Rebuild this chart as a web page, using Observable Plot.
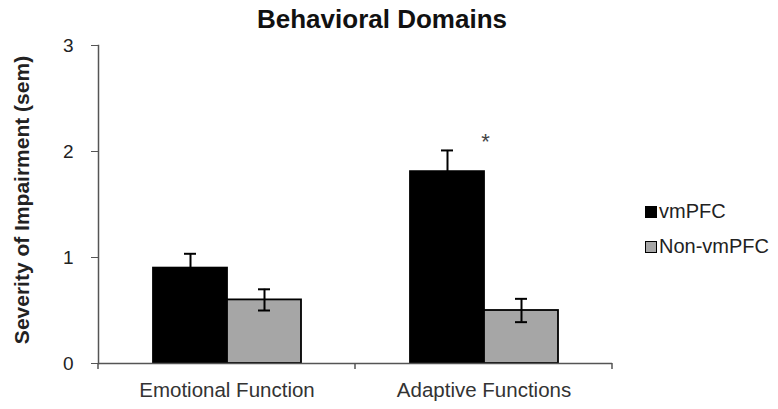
<!DOCTYPE html>
<html><head><meta charset="utf-8">
<script src="https://cdn.jsdelivr.net/npm/d3@7"></script>
<script src="https://cdn.jsdelivr.net/npm/@observablehq/plot@0.6"></script>
<style>
body{margin:0;background:#fff;font-family:"Liberation Sans",Arial,Helvetica,sans-serif;}
#wrap{position:relative;width:778px;height:409px;overflow:hidden;}
#title{position:absolute;left:0;top:4px;width:764px;text-align:center;font-weight:bold;font-size:26px;color:#111;line-height:30px;}
.leg{position:absolute;left:645px;display:flex;align-items:center;font-size:20px;color:#222;}
.sw{width:10px;height:10px;border:1.5px solid #000;margin-right:2px;}
</style></head><body>
<div id="wrap"><div id="title"></div></div>
<script>
const title = "Behavioral Domains";
const yLabel = "Severity of Impairment (sem)";
const categories = ["Emotional Function", "Adaptive Functions"];
const groups = ["vmPFC", "Non-vmPFC"];
const vmPFCMeans = [0.9, 1.81];
const vmPFCErrors = [0.135, 0.2];
const nonVmPFCMeans = [0.6, 0.5];
const nonVmPFCErrors = [0.1, 0.11];
const yTicks = [0, 1, 2, 3];
const groupColors = ["#000000", "#a6a6a6"];
const significance = [{category: "Adaptive Functions", group: "vmPFC", label: "*"}];

const rows = categories.flatMap((c, i) => [
  {category: c, group: groups[0], mean: vmPFCMeans[i], err: vmPFCErrors[i]},
  {category: c, group: groups[1], mean: nonVmPFCMeans[i], err: nonVmPFCErrors[i]}
]);
rows.forEach(d => { d.lo = d.mean - d.err; d.hi = d.mean + d.err; });
const stars = significance.map(s => {
  const r = rows.find(d => d.category === s.category && d.group === s.group);
  return {...s, y: r.hi};
});

const plot = Plot.plot({
  width: 778, height: 409,
  marginLeft: 97, marginRight: 166, marginTop: 45, marginBottom: 46,
  style: {fontFamily: "Liberation Sans, Arial, sans-serif", background: "white", fontSize: "18px"},
  fx: {domain: categories, padding: 0, label: null},
  x: {domain: groups, paddingInner: 0, paddingOuter: 0.717, axis: null},
  y: {domain: [0, 3], label: null},
  color: {domain: groups, range: groupColors},
  marks: [
    Plot.barY(rows, {fx: "category", x: "group", y: "mean", fill: "group", stroke: "black", strokeWidth: 1.8}),
    Plot.ruleX(rows, {fx: "category", x: "group", y1: "lo", y2: "hi", stroke: "black", strokeWidth: 2}),
    Plot.tickY(rows, {fx: "category", x: "group", y: "hi", stroke: "black", strokeWidth: 2, insetLeft: 31, insetRight: 31}),
    Plot.tickY(rows, {fx: "category", x: "group", y: "lo", stroke: "black", strokeWidth: 2, insetLeft: 31, insetRight: 31}),
    Plot.ruleY([0], {stroke: "#555", strokeWidth: 1.5}),
    Plot.frame({anchor: "left", facetAnchor: "left", stroke: "#555", strokeWidth: 1.5}),
    Plot.text(stars, {fx: "category", x: "group", y: "y", text: "label", dx: 38, dy: -8, fontSize: 22, fill: "#444"}),
    Plot.axisY({ticks: yTicks, tickFormat: d3.format("d"), tickSize: 7, tickPadding: 18, fontSize: 19, fill: "#222", stroke: "#555", label: null}),
    Plot.axisFx({anchor: "bottom", tickSize: 0, tickPadding: 19, fontSize: 20.5, fill: "#333", label: null})
  ]
});

const wrap = document.getElementById("wrap");
document.getElementById("title").textContent = title;
wrap.appendChild(plot);
plot.style.position = "absolute"; plot.style.left = "0"; plot.style.top = "0";

// boundary ticks below the baseline, derived from the fx and y scales
const fxS = plot.scale("fx"), yS = plot.scale("y");
const y0 = yS.apply(0);
const bounds = [fxS.apply(categories[0])].concat(categories.map(c => fxS.apply(c) + fxS.bandwidth));
const svg = d3.select(plot);
svg.append("g").selectAll("line").data(bounds).join("line")
  .attr("x1", d => d).attr("x2", d => d).attr("y1", y0).attr("y2", y0 + 6)
  .attr("stroke", "#555").attr("stroke-width", 1.5);

// y label
const yMid = (yS.range[0] + yS.range[1]) / 2;
svg.append("text").text(yLabel)
  .attr("transform", `translate(29,${yMid - 4}) rotate(-90)`)
  .attr("text-anchor", "middle").attr("font-size", 21).attr("font-weight", "bold").attr("fill", "#222");

// legend
groups.forEach((g, i) => {
  const row = document.createElement("div");
  row.className = "leg";
  row.style.top = (200 + i * 35) + "px";
  const sw = document.createElement("div");
  sw.className = "sw"; sw.style.background = groupColors[i];
  const t = document.createElement("span"); t.textContent = g;
  row.appendChild(sw); row.appendChild(t);
  wrap.appendChild(row);
});
document.getElementById("title").style.zIndex = 2;
</script>
</body></html>
